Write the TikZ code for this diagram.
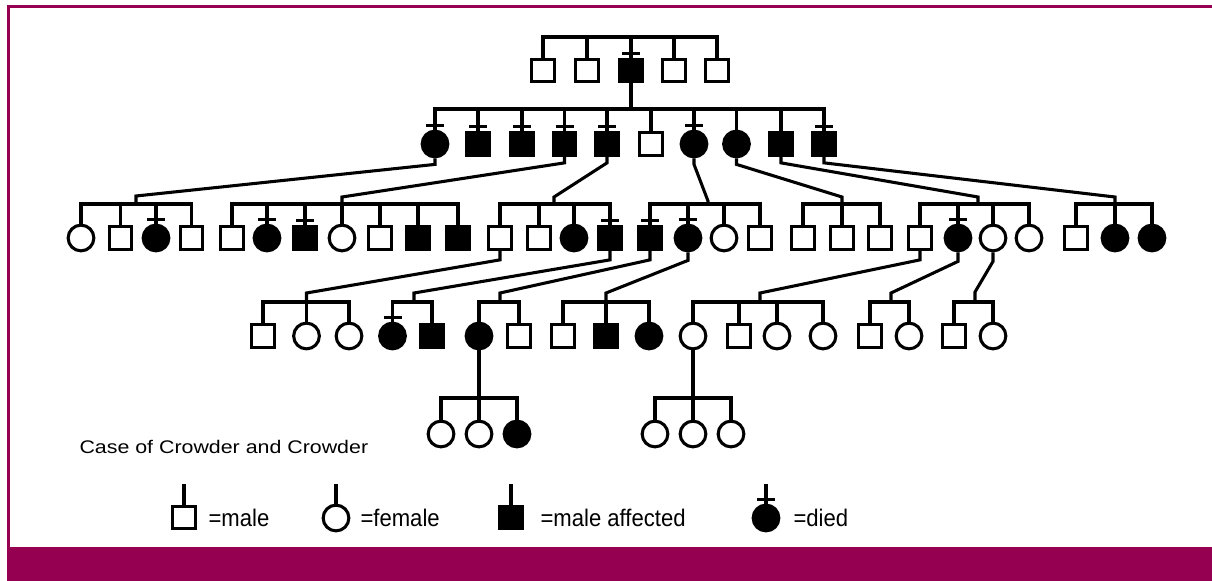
\documentclass[tikz,border=0pt]{standalone}
\usepackage{fontspec}
\setmainfont{Liberation Sans}
\newfontfamily\capfont[FakeStretch=1.17]{Liberation Sans}
\newfontfamily\legfont[FakeStretch=0.92]{Liberation Sans}
\definecolor{framecol}{RGB}{150,0,80}
\newcommand\deathbar[1]{\draw ([shift={(-9,-4.5)}]#1.north) -- ++(18,0);}
\newcommand\sibship[4]{%
  \draw (#2.north) -- (#2.north |- #1) -- (#3.north |- #1) -- (#3.north);
  \foreach \k in {#4} {\draw (\k.north) -- (\k.north |- #1);}}
\begin{document}
\begin{tikzpicture}[x=0.75pt,y=-0.75pt,line width=2.3pt,
  sq/.style={draw,rectangle,minimum size=17pt,inner sep=0pt,fill=white},
  ci/.style={draw,circle,minimum size=19.3pt,inner sep=0pt,fill=white},
  sqa/.style={sq,fill=black},
  cia/.style={ci,fill=black},
  captxt/.style={anchor=base west,inner sep=0pt,font=\capfont\fontsize{13.7pt}{16pt}\selectfont},
  txt/.style={anchor=base west,inner sep=0pt,font=\legfont\fontsize{18pt}{21pt}\selectfont}]
\useasboundingbox (0,0) rectangle (1212,581);
% frame
\fill[framecol] (7,547) rectangle (1212,581);
\draw[framecol,line width=2.25pt] (8.5,581) -- (8.5,6.5) -- (1212,6.5);

% Generation I
\foreach \n/\x/\s in {A1/543/sq,A2/587/sq,A3/631/sqa,A4/674/sq,A5/717/sq}
  {\node[\s] (\n) at (\x,70.5) {};}
% Generation II
\foreach \n/\x/\s in {B1/435/cia,B2/478/sqa,B3/522/sqa,B4/564.5/sqa,
  B5/607/sqa,B6/651/sq,B7/694/cia,B8/736.5/cia,B9/781/sqa,B10/824/sqa}
  {\node[\s] (\n) at (\x,144) {};}
% Generation III
\foreach \n/\x/\s in {C1/81/ci,C2/120.5/sq,C3/156/cia,C4/191.5/sq,
  C5/232/sq,C6/267/cia,C7/305/sqa,C8/342/ci,C9/380/sq,C10/418/sqa,C11/458/sqa,
  C12/500/sq,C13/539/sq,C14/574/cia,C15/610/sqa,
  C16/650/sqa,C17/688/cia,C18/724/ci,C19/760/sq,
  C20/803/sq,C21/842/sq,C22/880/sq,
  C23/920/sq,C24/958/cia,C25/993/ci,C26/1029/ci,
  C27/1076/sq,C28/1115/cia,C29/1152/cia}
  {\node[\s] (\n) at (\x,238) {};}
% Generation IV
\foreach \n/\x/\s in {D1/263/sq,D2/306.5/ci,D3/349/ci,D4/392.5/cia,D5/432/sqa,
  D6/479/cia,D7/519/sq,D8/563/sq,D9/606/sqa,D10/649/cia,
  D11/693/ci,D12/739/sq,D13/777/ci,D14/823/ci,D15/870/sq,D16/909/ci,D17/954/sq,D18/993/ci}
  {\node[\s] (\n) at (\x,336) {};}
% Generation V
\foreach \n/\x/\s in {E1/441/ci,E2/479/ci,E3/517/cia,E4/655/ci,E5/693/ci,E6/731/ci}
  {\node[\s] (\n) at (\x,434) {};}

% sibship levels / connection points
\coordinate (L1) at (631,37);
\coordinate (pII) at (631,109);
\coordinate (kA) at (136,196);   \coordinate (pA) at (136,204);
\coordinate (kB) at (342,197);   \coordinate (pB) at (342,204);
\coordinate (kC) at (554,197);   \coordinate (pC) at (554,204);
\coordinate (kD) at (708,201);   \coordinate (pD) at (708,204);
\coordinate (kE) at (842,197);   \coordinate (pE) at (842,204);
\coordinate (kF) at (978,197);   \coordinate (pF) at (978,204);
\coordinate (kG) at (1115,197);  \coordinate (pG) at (1115,204);
\coordinate (kH) at (306.5,293); \coordinate (pH) at (306.5,302);
\coordinate (kI) at (414,293);   \coordinate (pI) at (414,302);
\coordinate (kJ) at (500,293);   \coordinate (pJ) at (500,302);
\coordinate (kK) at (606,293);   \coordinate (pK) at (606,302);
\coordinate (kL) at (760,293);   \coordinate (pL) at (760,302);
\coordinate (kM) at (891,293);   \coordinate (pM) at (891,302);
\coordinate (kN) at (975,292);   \coordinate (pN) at (975,302);
\coordinate (pO) at (479,398);
\coordinate (pP) at (693,398);
\coordinate (Lg) at (0,484);

% sibships
\sibship{L1}{A1}{A5}{A2,A3,A4}
\sibship{pII}{B1}{B10}{B2,B3,B4,B5,B6,B7,B8,B9}
\sibship{pA}{C1}{C4}{C2,C3}
\sibship{pB}{C5}{C11}{C6,C7,C8,C9,C10}
\sibship{pC}{C12}{C15}{C13,C14}
\sibship{pD}{C16}{C19}{C17,C18}
\sibship{pE}{C20}{C22}{C21}
\sibship{pF}{C23}{C26}{C24,C25}
\sibship{pG}{C27}{C29}{C28}
\sibship{pH}{D1}{D3}{D2}
\sibship{pI}{D4}{D5}{D4}
\sibship{pJ}{D6}{D7}{D6}
\sibship{pK}{D8}{D10}{D9}
\sibship{pL}{D11}{D14}{D12,D13}
\sibship{pM}{D15}{D16}{D15}
\sibship{pN}{D17}{D18}{D17}
\sibship{pO}{E1}{E3}{E2}
\sibship{pP}{E4}{E6}{E5}

% descent lines
\draw (A3.south) -- (pII);
\draw (B1.south) -- ++(0,6) -- (kA) -- (pA);
\draw (B4.south) -- ++(0,6) -- (kB) -- (pB);
\draw (B5.south) -- ++(0,6) -- (kC) -- (pC);
\draw (B7.south) -- ++(0,6) -- (kD) -- (pD);
\draw (B8.south) -- ++(0,6) -- (kE) -- (pE);
\draw (B9.south) -- ++(0,6) -- (kF) -- (pF);
\draw (B10.south) -- ++(0,6) -- (kG) -- (pG);
\draw (C12.south) -- ++(0,9) -- (kH) -- (pH);
\draw (C15.south) -- ++(0,9) -- (kI) -- (pI);
\draw (C16.south) -- ++(0,9) -- (kJ) -- (pJ);
\draw (C17.south) -- ++(0,8) -- (kK) -- (pK);
\draw (C23.south) -- ++(0,9) -- (kL) -- (pL);
\draw (C24.south) -- ++(0,9) -- (kM) -- (pM);
\draw (C25.south) -- ++(0,9) -- (kN) -- (pN);
\draw (D6.south) -- (pO);
\draw (D11.south) -- (pP);

% death marks
\foreach \n in {A3,B1,B2,B3,B4,B5,B7,B10,C3,C6,C7,C15,C16,C17,C24,D4}
  {\deathbar{\n}}

% caption and legend
\node[captxt] (cap) at (78,453) {Case of Crowder and Crowder};
\node[sq] (LA) at (184,517.5) {};
\node[ci] (LB) at (336,518) {};
\node[sqa] (LC) at (511,517.5) {};
\node[cia] (LD) at (766,518) {};
\foreach \n in {LA,LB,LC,LD}
  {\draw (\n.north) -- (\n.north |- Lg);}
\deathbar{LD}
\node[txt] (tA) at (207,526) {=male};
\node[txt] (tB) at (359,526) {=female};
\node[txt] (tC) at (539,526) {=male affected};
\node[txt] (tD) at (792,526) {=died};
\end{tikzpicture}
\end{document}
